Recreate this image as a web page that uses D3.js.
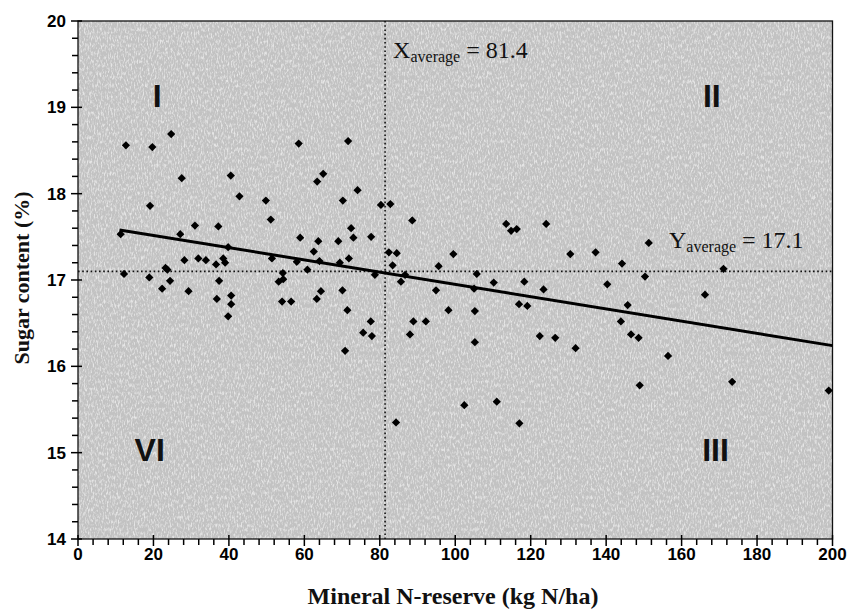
<!DOCTYPE html>
<html>
<head>
<meta charset="utf-8">
<script src="https://cdn.jsdelivr.net/npm/d3@7.9.0/dist/d3.min.js"></script>
<style>
  body { margin: 0; background: #fff; }
  svg { display: block; }
</style>
</head>
<body>
<svg id="vis"></svg>
<script>
const width = 851;
const height = 611;

// --- data ---
const nReserve = [
  12.7, 19.7, 24.7, 27.5, 40.5, 42.8, 19.1, 31.0, 37.2, 11.3,
  27.1, 28.2, 31.9, 33.9, 36.6, 38.5, 39.0, 23.2, 23.7, 12.2,
  18.9, 24.4, 22.3, 29.3, 37.4, 36.8, 40.6, 40.6, 39.8, 39.8,
  58.5, 71.6, 65.0, 63.4, 74.1, 49.8, 70.2, 80.3, 82.8, 51.1,
  88.6, 72.4, 73.0, 58.9, 63.7, 69.0, 77.7, 62.5, 51.4, 58.0,
  64.0, 69.4, 71.8, 82.4, 84.5, 83.4, 60.8, 54.3, 78.7, 86.7,
  85.6, 53.2, 54.4, 64.4, 70.1, 63.3, 54.1, 56.5, 71.4, 77.6,
  88.9, 75.6, 77.9, 70.8, 88.0, 84.3,
  113.5, 114.8, 116.3, 124.1, 99.5, 130.5, 137.2, 95.6, 105.7, 110.2,
  118.3, 123.4, 94.9, 105.0, 116.9, 119.1, 98.2, 105.2, 92.2, 105.2,
  122.4, 126.5, 131.9, 102.4, 111.0, 117.0,
  151.3, 144.2, 150.3, 171.1, 140.3, 166.2, 145.7, 143.9, 146.6, 148.6,
  156.4, 148.9, 173.4, 199.0
];
const sugar = [
  18.56, 18.54, 18.69, 18.18, 18.21, 17.97, 17.86, 17.63, 17.62, 17.53,
  17.53, 17.23, 17.25, 17.23, 17.18, 17.25, 17.20, 17.14, 17.12, 17.07,
  17.03, 16.99, 16.90, 16.87, 16.99, 16.78, 16.82, 16.72, 16.58, 17.38,
  18.58, 18.61, 18.23, 18.14, 18.04, 17.92, 17.92, 17.87, 17.88, 17.70,
  17.69, 17.60, 17.49, 17.49, 17.45, 17.45, 17.50, 17.33, 17.25, 17.21,
  17.22, 17.20, 17.25, 17.32, 17.31, 17.17, 17.12, 17.08, 17.06, 17.06,
  16.98, 16.98, 17.01, 16.87, 16.88, 16.78, 16.75, 16.75, 16.65, 16.52,
  16.52, 16.39, 16.35, 16.18, 16.37, 15.35,
  17.65, 17.57, 17.59, 17.65, 17.30, 17.30, 17.32, 17.16, 17.07, 16.97,
  16.98, 16.89, 16.88, 16.90, 16.72, 16.70, 16.65, 16.64, 16.52, 16.28,
  16.35, 16.33, 16.21, 15.55, 15.59, 15.34,
  17.43, 17.19, 17.04, 17.13, 16.95, 16.83, 16.71, 16.52, 16.37, 16.33,
  16.12, 15.78, 15.82, 15.72
];
const trendX = [11, 200];
const trendY = [17.58, 16.24];
const xAverage = 81.4;
const yAverage = 17.1;
const xTicks = [0, 20, 40, 60, 80, 100, 120, 140, 160, 180, 200];
const yTicks = [14, 15, 16, 17, 18, 19, 20];
const quadrants = [
  { label: "I", x: 21, y: 19.0 },
  { label: "II", x: 168, y: 19.0 },
  { label: "III", x: 169, y: 14.9 },
  { label: "VI", x: 19, y: 14.9 }
];

const points = nReserve.map((d, i) => ({ x: d, y: sugar[i] }));

const plotLeft = 78, plotRight = 832.5, plotTop = 21, plotBottom = 539;

const x = d3.scaleLinear().domain([0, 200]).range([plotLeft, plotRight]);
const y = d3.scaleLinear().domain([14, 20]).range([plotBottom, plotTop]);

const svg = d3.select("#vis")
  .attr("width", width)
  .attr("height", height);

// noisy gray plot background (scanned look)
const defs = svg.append("defs");
const noise = defs.append("filter").attr("id", "grain")
  .attr("x", 0).attr("y", 0).attr("width", "100%").attr("height", "100%");
noise.append("feTurbulence")
  .attr("type", "fractalNoise")
  .attr("baseFrequency", "0.7 0.25")
  .attr("numOctaves", 3)
  .attr("seed", 7);
noise.append("feColorMatrix")
  .attr("values", "0 0 0 0 1  0 0 0 0 1  0 0 0 0 1  3 0 0 0 -1.35");

svg.append("rect")
  .attr("x", plotLeft).attr("y", plotTop)
  .attr("width", plotRight - plotLeft).attr("height", plotBottom - plotTop)
  .attr("fill", "#c2c2c2");
svg.append("rect")
  .attr("x", plotLeft).attr("y", plotTop)
  .attr("width", plotRight - plotLeft).attr("height", plotBottom - plotTop)
  .attr("filter", "url(#grain)")
  .attr("opacity", 0.6);

// frame
svg.append("rect")
  .attr("x", plotLeft).attr("y", plotTop)
  .attr("width", plotRight - plotLeft).attr("height", plotBottom - plotTop)
  .attr("fill", "none")
  .attr("stroke", "#111")
  .attr("stroke-width", 1.3);

// minor ticks
const xMinor = d3.range(0, 201, 4).filter(v => v % 20 !== 0);
const yMinor = d3.range(14, 20.01, 0.2).filter(v => Math.abs(v - Math.round(v)) > 0.01);

const axisG = svg.append("g").attr("stroke", "#000").attr("stroke-width", 1.5);
axisG.selectAll(".xmin").data(xMinor).join("line")
  .attr("x1", d => x(d)).attr("x2", d => x(d))
  .attr("y1", plotBottom).attr("y2", plotBottom + 6);
axisG.selectAll(".xmaj").data(xTicks).join("line")
  .attr("x1", d => x(d)).attr("x2", d => x(d))
  .attr("y1", plotBottom - 4).attr("y2", plotBottom + 7);
axisG.selectAll(".ymin").data(yMinor).join("line")
  .attr("x1", plotLeft - 6).attr("x2", plotLeft)
  .attr("y1", d => y(d)).attr("y2", d => y(d));
axisG.selectAll(".ymaj").data(yTicks).join("line")
  .attr("x1", plotLeft - 7).attr("x2", plotLeft + 4)
  .attr("y1", d => y(d)).attr("y2", d => y(d));

// tick labels
svg.append("g").selectAll("text").data(xTicks).join("text")
  .attr("x", d => x(d))
  .attr("y", 560)
  .attr("text-anchor", "middle")
  .attr("font-family", "Liberation Sans, Arial, sans-serif")
  .attr("font-weight", "bold")
  .attr("font-size", 17)
  .attr("fill", "#000")
  .text(d => d);

svg.append("g").selectAll("text").data(yTicks).join("text")
  .attr("x", 66)
  .attr("y", d => y(d) + 6)
  .attr("text-anchor", "end")
  .attr("font-family", "Liberation Sans, Arial, sans-serif")
  .attr("font-weight", "bold")
  .attr("font-size", 17)
  .attr("fill", "#000")
  .text(d => d);

// axis titles
svg.append("text")
  .attr("x", 453).attr("y", 604)
  .attr("text-anchor", "middle")
  .attr("font-family", "Liberation Serif, Times New Roman, serif")
  .attr("font-weight", "bold")
  .attr("font-size", 24)
  .attr("fill", "#111")
  .text("Mineral N-reserve (kg N/ha)");

svg.append("text")
  .attr("transform", `translate(29, ${y(17) - 2}) rotate(-90)`)
  .attr("text-anchor", "middle")
  .attr("font-family", "Liberation Serif, Times New Roman, serif")
  .attr("font-weight", "bold")
  .attr("font-size", 22)
  .attr("fill", "#111")
  .text("Sugar content (%)");

// average lines
svg.append("line")
  .attr("x1", x(xAverage)).attr("x2", x(xAverage))
  .attr("y1", plotTop).attr("y2", plotBottom)
  .attr("stroke", "#111").attr("stroke-width", 1.6)
  .attr("stroke-dasharray", "1.6,2.6");
svg.append("line")
  .attr("x1", plotLeft).attr("x2", plotRight)
  .attr("y1", y(yAverage)).attr("y2", y(yAverage))
  .attr("stroke", "#111").attr("stroke-width", 1.6)
  .attr("stroke-dasharray", "1.6,2.6");

// trend line
svg.append("line")
  .attr("x1", x(trendX[0])).attr("y1", y(trendY[0]))
  .attr("x2", x(trendX[1])).attr("y2", y(trendY[1]))
  .attr("stroke", "#000").attr("stroke-width", 3);

// points
const diamond = d3.symbol(d3.symbolSquare, 34);
svg.append("g").selectAll("path").data(points).join("path")
  .attr("d", diamond)
  .attr("transform", d => `translate(${x(d.x)},${y(d.y)}) rotate(45)`)
  .attr("fill", "#000");

// average labels
function avgLabel(px, py, letter, value) {
  const t = svg.append("text")
    .attr("x", px).attr("y", py)
    .attr("font-family", "Liberation Serif, Times New Roman, serif")
    .attr("font-size", 24)
    .attr("fill", "#111");
  t.append("tspan").text(letter);
  t.append("tspan").attr("font-size", 16).attr("dy", 4).text("average");
  t.append("tspan").attr("dy", -4).text(" = " + value);
}
avgLabel(x(xAverage) + 8, 58, "X", xAverage);
avgLabel(669, 248, "Y", yAverage);

// quadrant labels
svg.append("g").selectAll("text").data(quadrants).join("text")
  .attr("x", d => x(d.x))
  .attr("y", d => y(d.y))
  .attr("text-anchor", "middle")
  .attr("font-family", "Liberation Sans, Arial, sans-serif")
  .attr("font-weight", "bold")
  .attr("font-size", 32)
  .attr("fill", "#111")
  .text(d => d.label);
</script>
</body>
</html>
